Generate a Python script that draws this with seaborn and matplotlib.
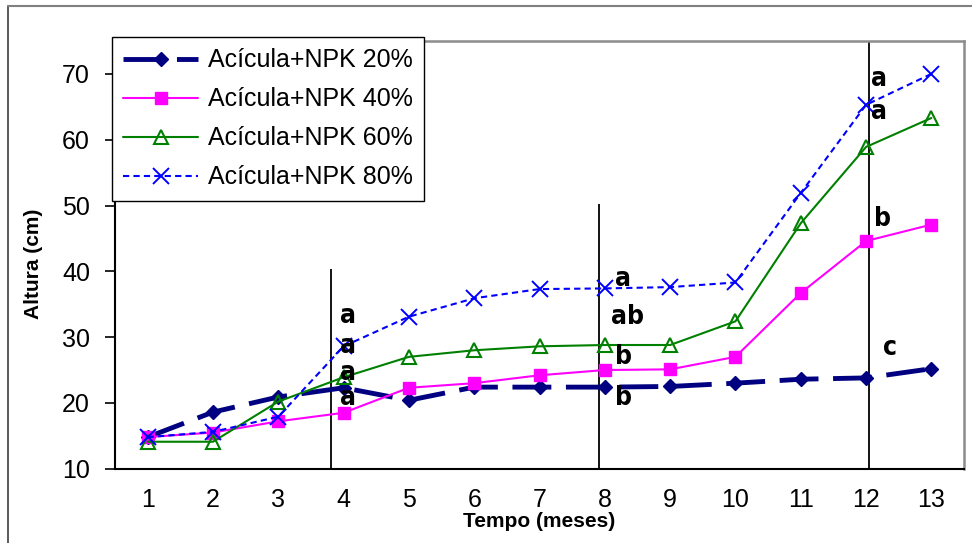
import seaborn as sns
import pandas as pd
import numpy as np
import matplotlib.pyplot as plt
from matplotlib.lines import Line2D

# months and plant heights (cm)
meses = list(range(1, 14))
npk20 = [14.8, 18.6, 20.9, 22.3, 20.4, 22.4, 22.4, 22.4, 22.5, 23.0, 23.6, 23.8, 25.2]
npk40 = [14.8, 15.5, 17.2, 18.5, 22.3, 23.0, 24.2, 25.0, 25.1, 27.0, 36.7, 44.6, 47.1]
npk60 = [14.1, 14.1, 20.2, 23.9, 27.0, 28.0, 28.6, 28.8, 28.8, 32.4, 47.3, 58.9, 63.3]
npk80 = [14.8, 15.6, 17.9, 28.6, 33.1, 35.9, 37.3, 37.4, 37.6, 38.3, 51.9, 65.3, 70.0]

labels = ['Acícula+NPK 20%', 'Acícula+NPK 40%', 'Acícula+NPK 60%', 'Acícula+NPK 80%']

# separator lines and significance letters
vline_x = [3.8, 7.91, 12.04]
vline_top = [40.3, 50.2, 75]
letras = ['a', 'a', 'a', 'a', 'a', 'ab', 'b', 'b', 'a', 'a', 'b', 'c']
letras_x = [4.07, 4.07, 4.07, 4.07, 8.28, 8.35, 8.28, 8.28, 12.2, 12.2, 12.25, 12.37]
letras_y = [33.2, 28.6, 24.6, 20.7, 38.9, 33.0, 27.0, 20.7, 69.2, 64.2, 47.9, 28.4]

df = pd.DataFrame({'mes': meses, labels[0]: npk20, labels[1]: npk40,
                   labels[2]: npk60, labels[3]: npk80})

sns.set_style('white')
plt.rcParams['font.family'] = ['Liberation Sans', 'DejaVu Sans']
plt.rcParams['text.color'] = 'black'
plt.rcParams['axes.labelcolor'] = 'black'
plt.rcParams['xtick.color'] = 'black'
plt.rcParams['ytick.color'] = 'black'

fig = plt.figure(figsize=(9.72, 5.43), dpi=100)
ax = fig.add_axes([0.1183, 0.1368, 0.8735, 0.7877])

styles = [
    dict(color='#000080', marker='D', markersize=7, linewidth=3.5, linestyle=(0, (8, 3)),
         markeredgecolor='#000080', markeredgewidth=1),
    dict(color='#FF00FF', marker='s', markersize=8, linewidth=1.5, linestyle='-',
         markeredgecolor='#FF00FF', markeredgewidth=1),
    dict(color='#008000', marker='^', markersize=10, linewidth=1.5, linestyle='-',
         markerfacecolor='none', markeredgecolor='#008000', markeredgewidth=1.5),
    dict(color='#0000FF', marker='x', markersize=11, linewidth=1.5, linestyle=(0, (3, 2)),
         markeredgecolor='#0000FF', markeredgewidth=1.4),
]

for lab, st in zip(labels, styles):
    sns.lineplot(data=df, x='mes', y=lab, ax=ax, label=lab, **st)

ax.vlines(vline_x, 10, vline_top, color='black', linewidth=1.3, zorder=1)

for t, x, y in zip(letras, letras_x, letras_y):
    ax.text(x, y, t, ha='center', va='center', fontsize=19, fontweight='bold',
            family='DejaVu Sans', fontstretch='condensed')

ax.set_xlim(0.5, 13.5)
ax.set_ylim(10, 75)
ax.set_xticks(meses)
ax.set_xticks(np.arange(0.5, 14, 1), minor=True)
ax.set_yticks(range(10, 71, 10))
ax.tick_params(axis='x', which='major', length=0, labelsize=18, pad=14)
ax.tick_params(axis='x', which='minor', length=7, width=1.2, color='black', direction='out')
ax.tick_params(axis='y', length=7, width=1.2, color='black', direction='out', labelsize=18, pad=11)
ax.tick_params(bottom=True, left=True)

for s in ['left', 'bottom']:
    ax.spines[s].set_color('black')
    ax.spines[s].set_linewidth(1.5)
for s in ['top', 'right']:
    ax.spines[s].set_color('#8c8c8c')
    ax.spines[s].set_linewidth(1.8)

ax.set_xlabel('Tempo (meses)', fontsize=15, fontweight='bold')
ax.set_ylabel('Altura (cm)', fontsize=15, fontweight='bold')
ax.xaxis.set_label_coords(0.5, -0.101)
ax.yaxis.set_label_coords(-0.085, 0.48)

leg = ax.legend(loc='upper left', bbox_to_anchor=(-0.0035, 1.009), fontsize=18,
                frameon=True, fancybox=False, framealpha=1, edgecolor='black',
                borderaxespad=0, borderpad=0.45, labelspacing=0.6,
                handlelength=3.0, handletextpad=0.4)
leg.get_frame().set_linewidth(1.0)

# outer chart border (left and top edges)
fig.add_artist(Line2D([8 / 972, 8 / 972], [0, 1 - 5.7 / 543], transform=fig.transFigure,
                      color='#404040', linewidth=1.2))
fig.add_artist(Line2D([8 / 972, 1], [1 - 5.7 / 543, 1 - 5.7 / 543], transform=fig.transFigure,
                      color='#808080', linewidth=1.5))

fig.savefig('out.png', dpi=100)
